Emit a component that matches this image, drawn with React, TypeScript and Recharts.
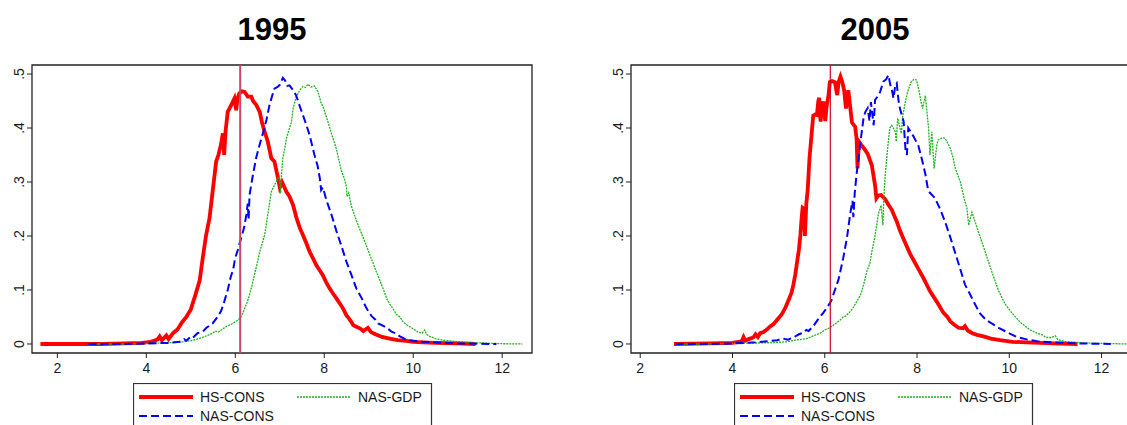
import { LineChart, Line, XAxis, YAxis, ReferenceLine, ReferenceArea } from "recharts";

// kernel densities of log income
const hs95X = [1.62, 2.5, 3.0, 3.5, 3.9, 4.1, 4.25, 4.3, 4.35, 4.45, 4.5, 4.6, 4.7, 4.8, 4.9, 5.0, 5.1, 5.2, 5.27, 5.34, 5.42, 5.49, 5.57, 5.62, 5.68, 5.72, 5.75, 5.78, 5.83, 5.91, 5.98, 6.02, 6.05, 6.09, 6.15, 6.21, 6.25, 6.28, 6.36, 6.4, 6.47, 6.55, 6.6, 6.66, 6.73, 6.81, 6.88, 6.96, 7.0, 7.05, 7.15, 7.22, 7.3, 7.37, 7.45, 7.52, 7.6, 7.67, 7.75, 7.82, 7.9, 7.97, 8.05, 8.12, 8.2, 8.27, 8.35, 8.42, 8.5, 8.55, 8.6, 8.65, 8.72, 8.8, 8.88, 8.98, 9.05, 9.15, 9.3, 9.47, 9.65, 9.85, 10.0, 10.22, 10.5, 10.97, 11.4];
const hs95Y = [0, 0, 0, 0.001, 0.002, 0.004, 0.008, 0.014, 0.007, 0.016, 0.009, 0.02, 0.027, 0.04, 0.05, 0.064, 0.09, 0.118, 0.16, 0.2, 0.233, 0.282, 0.338, 0.35, 0.37, 0.39, 0.35, 0.393, 0.43, 0.443, 0.455, 0.433, 0.455, 0.464, 0.468, 0.467, 0.462, 0.458, 0.458, 0.45, 0.443, 0.43, 0.41, 0.393, 0.375, 0.344, 0.338, 0.307, 0.29, 0.3, 0.282, 0.273, 0.257, 0.235, 0.215, 0.202, 0.186, 0.171, 0.158, 0.146, 0.136, 0.127, 0.113, 0.103, 0.093, 0.085, 0.075, 0.066, 0.053, 0.048, 0.042, 0.035, 0.032, 0.029, 0.024, 0.03, 0.022, 0.018, 0.013, 0.01, 0.007, 0.0056, 0.004, 0.003, 0.002, 0.001, 0];

const gdp95X = [2.7, 3.5, 4.0, 4.5, 4.82, 5.0, 5.19, 5.35, 5.49, 5.55, 5.62, 5.7, 5.79, 5.9, 6.02, 6.11, 6.16, 6.21, 6.27, 6.32, 6.38, 6.43, 6.5, 6.55, 6.6, 6.66, 6.73, 6.81, 6.88, 6.96, 6.99, 7.02, 7.04, 7.07, 7.12, 7.15, 7.22, 7.26, 7.3, 7.37, 7.45, 7.52, 7.58, 7.63, 7.7, 7.78, 7.86, 7.93, 7.97, 8.08, 8.16, 8.27, 8.38, 8.46, 8.5, 8.51, 8.55, 8.61, 8.76, 8.91, 9.02, 9.17, 9.32, 9.4, 9.47, 9.55, 9.62, 9.7, 9.77, 9.86, 10.0, 10.11, 10.2, 10.26, 10.3, 10.37, 10.5, 10.67, 11.05, 11.5, 12.0, 12.45];
const gdp95Y = [0, 0, 0.001, 0.002, 0.004, 0.006, 0.01, 0.015, 0.02, 0.024, 0.022, 0.027, 0.032, 0.036, 0.042, 0.048, 0.055, 0.066, 0.078, 0.091, 0.11, 0.128, 0.152, 0.171, 0.185, 0.202, 0.239, 0.282, 0.294, 0.307, 0.31, 0.279, 0.316, 0.345, 0.366, 0.381, 0.4, 0.41, 0.436, 0.458, 0.47, 0.477, 0.475, 0.481, 0.476, 0.478, 0.467, 0.446, 0.44, 0.412, 0.39, 0.362, 0.322, 0.304, 0.29, 0.273, 0.28, 0.255, 0.22, 0.19, 0.166, 0.134, 0.103, 0.085, 0.074, 0.065, 0.055, 0.05, 0.041, 0.035, 0.028, 0.022, 0.02, 0.026, 0.018, 0.014, 0.01, 0.007, 0.004, 0.002, 0.0005, 0];

const nas95X = [2.7, 3.5, 4.0, 4.5, 4.75, 4.85, 4.9, 5.0, 5.05, 5.15, 5.27, 5.35, 5.49, 5.6, 5.68, 5.75, 5.83, 5.9, 5.95, 6.0, 6.06, 6.13, 6.2, 6.25, 6.28, 6.3, 6.32, 6.4, 6.47, 6.55, 6.62, 6.7, 6.77, 6.83, 6.88, 6.95, 7.0, 7.07, 7.12, 7.17, 7.22, 7.3, 7.37, 7.45, 7.52, 7.6, 7.67, 7.78, 7.85, 7.9, 7.93, 7.97, 8.05, 8.16, 8.27, 8.38, 8.5, 8.61, 8.72, 8.84, 8.95, 9.06, 9.15, 9.21, 9.36, 9.45, 9.51, 9.6, 9.7, 9.8, 9.92, 10.1, 10.22, 10.6, 11.0, 11.87];
const nas95Y = [0, 0, 0.001, 0.002, 0.004, 0.009, 0.006, 0.014, 0.012, 0.02, 0.023, 0.03, 0.038, 0.05, 0.061, 0.078, 0.1, 0.125, 0.137, 0.16, 0.175, 0.196, 0.216, 0.24, 0.26, 0.23, 0.276, 0.315, 0.345, 0.37, 0.39, 0.415, 0.443, 0.46, 0.473, 0.476, 0.48, 0.493, 0.488, 0.478, 0.479, 0.47, 0.46, 0.44, 0.424, 0.405, 0.387, 0.35, 0.33, 0.307, 0.285, 0.29, 0.266, 0.24, 0.21, 0.183, 0.152, 0.128, 0.103, 0.085, 0.066, 0.052, 0.045, 0.038, 0.032, 0.027, 0.023, 0.02, 0.014, 0.01, 0.007, 0.005, 0.004, 0.0025, 0.001, 0];

const hs05X = [2.73, 3.5, 4.0, 4.2, 4.24, 4.28, 4.35, 4.45, 4.5, 4.55, 4.6, 4.67, 4.75, 4.81, 4.89, 4.97, 5.07, 5.15, 5.21, 5.28, 5.32, 5.36, 5.39, 5.44, 5.47, 5.5, 5.52, 5.55, 5.57, 5.6, 5.63, 5.67, 5.71, 5.75, 5.79, 5.83, 5.86, 5.88, 5.91, 5.94, 5.97, 6.01, 6.04, 6.08, 6.11, 6.16, 6.22, 6.27, 6.3, 6.34, 6.38, 6.42, 6.46, 6.51, 6.55, 6.59, 6.66, 6.69, 6.71, 6.74, 6.8, 6.87, 6.93, 7.02, 7.09, 7.12, 7.16, 7.22, 7.31, 7.38, 7.45, 7.56, 7.63, 7.71, 7.85, 7.99, 8.14, 8.28, 8.43, 8.57, 8.66, 8.72, 8.8, 8.9, 9.0, 9.04, 9.1, 9.2, 9.3, 9.44, 9.6, 9.8, 10.07, 10.38, 10.96, 11.48];
const hs05Y = [0, 0.001, 0.002, 0.005, 0.013, 0.006, 0.009, 0.012, 0.018, 0.013, 0.02, 0.022, 0.027, 0.032, 0.037, 0.045, 0.055, 0.068, 0.08, 0.095, 0.11, 0.128, 0.146, 0.175, 0.2, 0.235, 0.252, 0.25, 0.2, 0.26, 0.285, 0.345, 0.384, 0.423, 0.425, 0.424, 0.45, 0.456, 0.412, 0.44, 0.449, 0.413, 0.44, 0.46, 0.485, 0.487, 0.485, 0.461, 0.485, 0.495, 0.485, 0.47, 0.436, 0.47, 0.44, 0.41, 0.402, 0.38, 0.325, 0.375, 0.368, 0.36, 0.352, 0.331, 0.294, 0.27, 0.275, 0.276, 0.268, 0.258, 0.249, 0.227, 0.21, 0.194, 0.167, 0.145, 0.122, 0.098, 0.078, 0.058, 0.05, 0.042, 0.036, 0.03, 0.029, 0.033, 0.025, 0.02, 0.017, 0.014, 0.01, 0.007, 0.004, 0.003, 0.001, 0];

const gdp05X = [2.8, 3.5, 4.0, 4.65, 4.97, 5.17, 5.36, 5.61, 5.75, 5.9, 6.0, 6.11, 6.22, 6.33, 6.4, 6.46, 6.55, 6.62, 6.69, 6.77, 6.84, 6.91, 6.98, 7.02, 7.09, 7.16, 7.22, 7.26, 7.28, 7.31, 7.36, 7.41, 7.45, 7.53, 7.55, 7.58, 7.63, 7.66, 7.69, 7.75, 7.8, 7.87, 7.93, 7.99, 8.04, 8.08, 8.12, 8.18, 8.25, 8.28, 8.32, 8.37, 8.43, 8.46, 8.55, 8.61, 8.72, 8.78, 8.83, 8.94, 9.02, 9.08, 9.12, 9.19, 9.26, 9.33, 9.48, 9.62, 9.77, 9.91, 10.06, 10.24, 10.45, 10.6, 10.71, 10.8, 10.9, 11.0, 11.05, 11.25, 11.64, 12.0, 12.6];
const gdp05Y = [0, 0, 0.001, 0.002, 0.003, 0.004, 0.007, 0.01, 0.015, 0.02, 0.026, 0.03, 0.037, 0.044, 0.05, 0.052, 0.06, 0.068, 0.078, 0.09, 0.109, 0.134, 0.15, 0.171, 0.2, 0.24, 0.257, 0.22, 0.27, 0.313, 0.36, 0.4, 0.405, 0.393, 0.375, 0.418, 0.4, 0.39, 0.422, 0.45, 0.468, 0.485, 0.49, 0.489, 0.47, 0.452, 0.436, 0.46, 0.4, 0.35, 0.393, 0.325, 0.37, 0.378, 0.382, 0.381, 0.363, 0.345, 0.325, 0.3, 0.27, 0.252, 0.22, 0.244, 0.226, 0.208, 0.17, 0.134, 0.098, 0.074, 0.057, 0.04, 0.026, 0.02, 0.017, 0.012, 0.012, 0.015, 0.008, 0.004, 0.002, 0.001, 0];

const nas05X = [2.77, 3.5, 4.0, 4.5, 4.97, 5.1, 5.2, 5.32, 5.44, 5.54, 5.6, 5.65, 5.75, 5.85, 5.97, 6.07, 6.14, 6.22, 6.3, 6.4, 6.48, 6.55, 6.6, 6.62, 6.65, 6.69, 6.73, 6.77, 6.84, 6.88, 6.93, 6.97, 7.0, 7.06, 7.09, 7.16, 7.2, 7.27, 7.33, 7.38, 7.42, 7.45, 7.49, 7.53, 7.56, 7.6, 7.63, 7.71, 7.75, 7.78, 7.81, 7.92, 8.03, 8.1, 8.18, 8.21, 8.24, 8.28, 8.39, 8.5, 8.61, 8.72, 8.83, 8.94, 9.04, 9.15, 9.26, 9.37, 9.48, 9.55, 9.62, 9.77, 9.95, 10.16, 10.4, 10.6, 10.96, 11.5, 12.2];
const nas05Y = [0, 0, 0.001, 0.003, 0.007, 0.01, 0.008, 0.012, 0.018, 0.021, 0.026, 0.024, 0.033, 0.045, 0.058, 0.07, 0.08, 0.1, 0.12, 0.159, 0.196, 0.24, 0.265, 0.235, 0.28, 0.315, 0.341, 0.372, 0.418, 0.43, 0.437, 0.413, 0.448, 0.405, 0.452, 0.46, 0.467, 0.486, 0.49, 0.498, 0.48, 0.473, 0.455, 0.48, 0.483, 0.45, 0.436, 0.412, 0.36, 0.35, 0.4, 0.385, 0.367, 0.344, 0.315, 0.3, 0.285, 0.28, 0.27, 0.25, 0.226, 0.198, 0.168, 0.138, 0.11, 0.092, 0.073, 0.056, 0.046, 0.042, 0.038, 0.03, 0.022, 0.013, 0.008, 0.005, 0.003, 0.001, 0];

const xTicks = [2, 4, 6, 8, 10, 12];
const yTicks = [0, 0.1, 0.2, 0.3, 0.4, 0.5];
const yLabels = ["0", ".1", ".2", ".3", ".4", ".5"];
const cutoff95 = 6.11;
const cutoff05 = 6.12;

const FONT = "'Liberation Sans', Arial, Helvetica, sans-serif";
const RED = "#ff0000";
const BLUE = "#0000ff";
const GREEN = "#1cb41c";
const Y_MIN = -0.0167;
const Y_MAX = 0.5167;

const pts = (xs: number[], ys: number[]) => xs.map((x, i) => ({ x, y: ys[i] }));

const YTick = (props: any) => {
  const { x, y, payload } = props;
  const cx = x - 6;
  const i = yTicks.indexOf(payload.value);
  return (
    <text
      x={cx}
      y={y}
      transform={`rotate(-90 ${cx} ${y})`}
      textAnchor="middle"
      dominantBaseline="central"
      fontSize={14}
      fontFamily={FONT}
      fill="#1a1a1a"
    >
      {i >= 0 ? yLabels[i] : payload.value}
    </text>
  );
};

function Panel(props: {
  left: number;
  width: number;
  marginLeft: number;
  marginRight: number;
  domain: [number, number];
  hs: { x: number; y: number }[];
  gdp: { x: number; y: number }[];
  nas: { x: number; y: number }[];
  cutoff: number;
  cutColor: string;
  cutWidth: number;
}) {
  const { domain } = props;
  return (
    <div style={{ position: "absolute", left: props.left, top: 0 }}>
      <LineChart
        width={props.width}
        height={425}
        margin={{ top: 65, right: props.marginRight, bottom: 42, left: props.marginLeft }}
      >
        <XAxis
          type="number"
          dataKey="x"
          domain={domain}
          allowDataOverflow
          ticks={xTicks}
          axisLine={false}
          tickSize={5}
          tickMargin={5}
          height={30}
          stroke="#222"
          tick={{ fontSize: 14, fontFamily: FONT, fill: "#1a1a1a" }}
        />
        <YAxis
          type="number"
          dataKey="y"
          domain={[Y_MIN, Y_MAX]}
          allowDataOverflow
          ticks={yTicks}
          axisLine={false}
          tickSize={5}
          width={32}
          stroke="#222"
          tick={<YTick />}
        />
        <ReferenceArea
          x1={domain[0]}
          x2={domain[1]}
          y1={Y_MIN}
          y2={Y_MAX}
          fill="none"
          fillOpacity={0}
          stroke="#222"
          strokeWidth={1.3}
          ifOverflow="visible"
        />
        <Line
          data={props.hs}
          dataKey="y"
          stroke={RED}
          strokeWidth={3.8}
          dot={false}
          type="linear"
          isAnimationActive={false}
        />
        <Line
          data={props.gdp}
          dataKey="y"
          stroke={GREEN}
          strokeWidth={1.3}
          strokeDasharray="2 1"
          dot={false}
          type="linear"
          isAnimationActive={false}
        />
        <Line
          data={props.nas}
          dataKey="y"
          stroke={BLUE}
          strokeWidth={2}
          strokeDasharray="8 4"
          dot={false}
          type="linear"
          isAnimationActive={false}
        />
        <ReferenceLine x={props.cutoff} stroke={props.cutColor} strokeWidth={props.cutWidth} />
      </LineChart>
    </div>
  );
}

function Key(props: { left: number }) {
  const { left } = props;
  return (
    <svg
      style={{ position: "absolute", left, top: 383 }}
      width={300}
      height={44}
      fontFamily={FONT}
      fontSize={14}
    >
      <rect x={0.5} y={0.5} width={298} height={60} fill="#fff" stroke="#333" strokeWidth={1.2} />
      <line x1={6} x2={60} y1={14} y2={14} stroke={RED} strokeWidth={4} />
      <text x={67} y={14} dominantBaseline="central" fill="#1a1a1a">HS-CONS</text>
      <line x1={164} x2={218} y1={14} y2={14} stroke={GREEN} strokeWidth={1.3} strokeDasharray="2 1" />
      <text x={225} y={14} dominantBaseline="central" fill="#1a1a1a">NAS-GDP</text>
      <line x1={6} x2={60} y1={33} y2={33} stroke={BLUE} strokeWidth={2} strokeDasharray="8 4" />
      <text x={67} y={33} dominantBaseline="central" fill="#1a1a1a">NAS-CONS</text>
    </svg>
  );
}

export default function App() {
  return (
    <div
      style={{
        position: "absolute",
        left: 0,
        top: 0,
        width: 1127,
        height: 425,
        overflow: "hidden",
        background: "#fff",
        fontFamily: FONT,
      }}
    >
      <div style={{ position: "absolute", left: 172, top: 12, width: 200, textAlign: "center", fontSize: 31, fontWeight: "bold", color: "#000" }}>
        1995
      </div>
      <div style={{ position: "absolute", left: 775, top: 12, width: 200, textAlign: "center", fontSize: 31, fontWeight: "bold", color: "#000" }}>
        2005
      </div>
      <Panel
        left={0}
        width={560}
        marginLeft={0}
        marginRight={28}
        domain={[1.43, 12.67]}
        hs={pts(hs95X, hs95Y)}
        gdp={pts(gdp95X, gdp95Y)}
        nas={pts(nas95X, nas95Y)}
        cutoff={cutoff95}
        cutColor="#cf4468"
        cutWidth={2}
      />
      <Panel
        left={560}
        width={600}
        marginLeft={39}
        marginRight={10}
        domain={[1.8, 13.05]}
        hs={pts(hs05X, hs05Y)}
        gdp={pts(gdp05X, gdp05Y)}
        nas={pts(nas05X, nas05Y)}
        cutoff={cutoff05}
        cutColor="#d4002a"
        cutWidth={1.2}
      />
      <Key left={133} />
      <Key left={734} />
    </div>
  );
}
